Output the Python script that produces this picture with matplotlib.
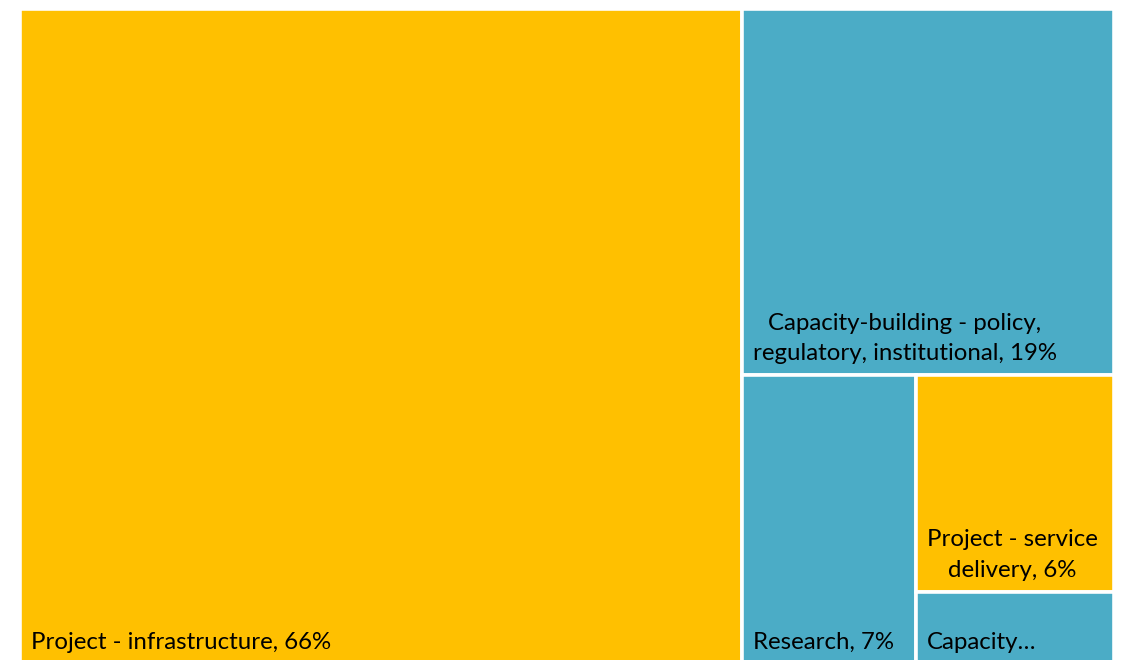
import matplotlib.pyplot as plt
from matplotlib.patches import Rectangle

# share of funding by activity type (%)
labels = ["Project - infrastructure, 66%",
          "Capacity-building - policy,\nregulatory, institutional, 19%",
          "Research, 7%",
          "Project - service\ndelivery, 6%",
          "Capacity\u2026"]
values = [66, 19, 7, 6, 2]
colors = ["#FFC000", "#4BACC6", "#4BACC6", "#FFC000", "#4BACC6"]


def worst(row, side):
    s = sum(row)
    return max(max(side * side * r / (s * s), s * s / (side * side * r)) for r in row)


def squarify(vals, x, y, w, h):
    # squarified treemap, vals already scaled to the area w*h
    rects = []
    vals = list(vals)
    while vals:
        side = min(w, h)
        row = [vals.pop(0)]
        while vals and worst(row + [vals[0]], side) <= worst(row, side):
            row.append(vals.pop(0))
        s = sum(row)
        if w >= h:
            rw = s / h
            yy = y
            for r in row:
                rects.append((x, yy, rw, r / rw))
                yy += r / rw
            x += rw
            w -= rw
        else:
            rh = s / w
            xx = x
            for r in row:
                rects.append((xx, y, r / rh, rh))
                xx += r / rh
            y += rh
            h -= rh
    return rects


x0, y0, W, H = 20, 9, 1094, 655
total = sum(values)
scaled = [v * W * H / total for v in values]
boxes = squarify(scaled, x0, y0, W, H)

fig = plt.figure(figsize=(11.22, 6.6), dpi=100)
ax = fig.add_axes([0, 0, 1, 1])
ax.set_xlim(0, 1122)
ax.set_ylim(660, 0)
ax.axis("off")

for (bx, by, bw, bh), lab, c in zip(boxes, labels, colors):
    ax.add_patch(Rectangle((bx, by), bw, bh, facecolor=c, edgecolor="white", linewidth=2.6))
    ax.text(bx + 11, by + bh - 11, lab, ha="left", va="bottom", multialignment="center",
            linespacing=1.55, fontsize=17.3, family="Lato", color="black")

fig.savefig("out.png", dpi=100)
